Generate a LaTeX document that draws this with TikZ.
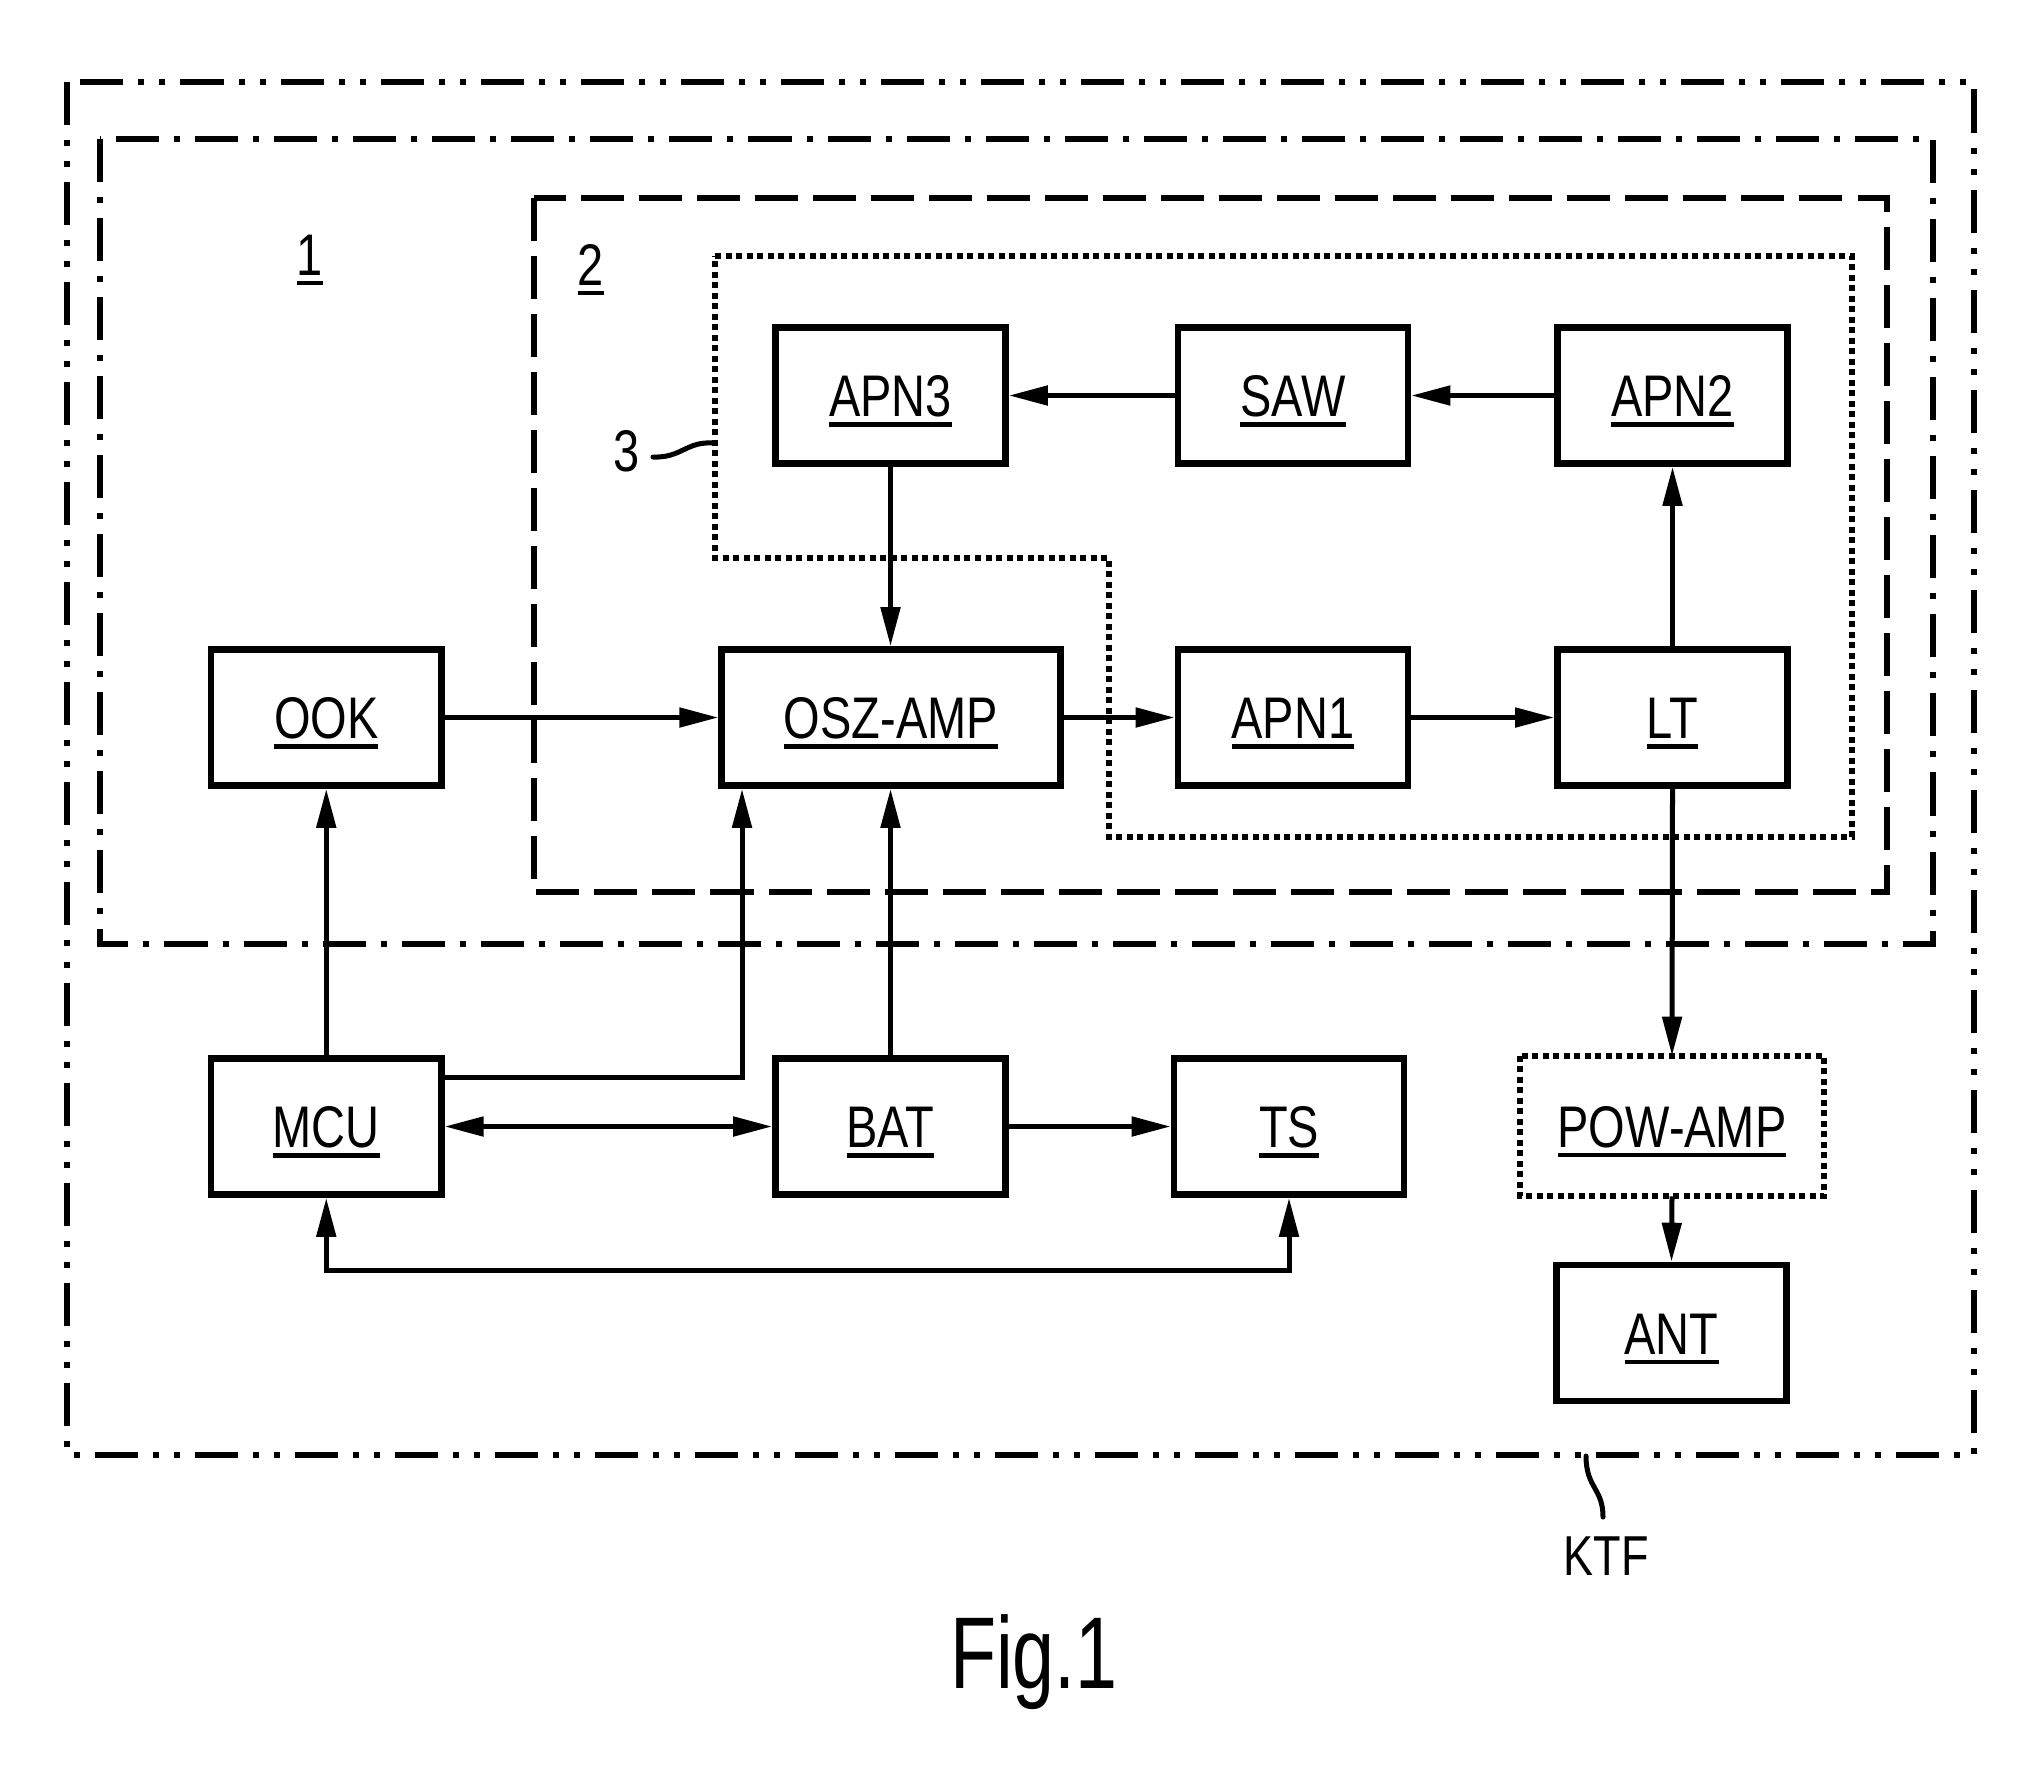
\documentclass[tikz,border=0pt]{standalone}
\usepackage{fontspec}
\setmainfont{Liberation Sans}[FakeStretch=0.8]
\newfontfamily\figfont{Liberation Sans}[FakeStretch=0.74]
\usetikzlibrary{arrows.meta}
\newsavebox\ulbx
\newcommand\ulab[1]{\sbox\ulbx{#1}\rlap{\rule[-0.1025cm]{\wd\ulbx}{0.045cm}}\usebox\ulbx}
\newcommand\lblfont{\fontsize{16.7pt}{20pt}\selectfont}
\tikzset{
  blk/.style={draw, line width=0.065cm, minimum width=2.30cm, minimum height=1.36cm,
    inner sep=0pt, text height=0.42cm, text depth=0pt, font=\lblfont},
  arr/.style={line width=0.05cm, -{Triangle[length=0.39cm,width=0.19cm]}},
  darr/.style={line width=0.05cm, {Triangle[length=0.39cm,width=0.19cm]}-{Triangle[length=0.39cm,width=0.19cm]}},
  ktfframe/.style={line width=0.062cm, dash pattern=on 0.43cm off 0.15cm on 0.06cm off 0.15cm on 0.06cm off 0.15cm},
  oneframe/.style={line width=0.062cm, dash pattern=on 0.43cm off 0.15cm on 0.06cm off 0.15cm},
  twoframe/.style={line width=0.062cm, dash pattern=on 0.43cm off 0.15cm},
  dotframe/.style={line width=0.062cm, dash pattern=on 0.06cm off 0.045cm},
  reflbl/.style={font=\lblfont, inner sep=0pt, anchor=base},
  leader/.style={line width=0.05cm, line cap=round}
}
\begin{document}
\begin{tikzpicture}[x=0.01cm, y=-0.01cm]
\useasboundingbox[fill=white] (0,0) rectangle (2034,1781);

% frames
\draw[ktfframe] (67,82) rectangle (1974,1455);
\draw[oneframe] (100,139) rectangle (1933,944);
\draw[twoframe] (534,198) rectangle (1887,892);
\draw[dotframe] (715,256) -- (1852,256) -- (1852,837) -- (1109,837) -- (1109,558) -- (715,558) -- cycle;

% labels of frames
\node[reflbl] (l1) at (310,275) {\ulab{1}};
\node[reflbl] (l2) at (591,285) {\ulab{2}};
\node[reflbl] (l3) at (627,471) {3};
\draw[leader] (653,457) .. controls (682,458) and (686,441) .. (714,443);
\node[reflbl, font=\fontsize{16pt}{19pt}\selectfont] (ktf) at (1606,1575) {KTF};
\draw[leader] (1586,1456) .. controls (1586,1488) and (1603,1488) .. (1603,1517);
\node[reflbl, font=\figfont\fontsize{29pt}{34pt}\selectfont] (fig) at (1034,1688) {Fig.1};

% blocks
\node[blk] (apn3) at (890.5,395.5) {\ulab{APN3}};
\node[blk] (saw) at (1293,395.5) {\ulab{SAW}};
\node[blk] (apn2) at (1672.5,395.5) {\ulab{APN2}};
\node[blk] (ook) at (326.25,717.5) {\ulab{OOK}};
\node[blk, minimum width=3.385cm] (osz) at (891,717.5) {\ulab{OSZ-AMP}};
\node[blk] (apn1) at (1293,717.5) {\ulab{APN1}};
\node[blk] (lt) at (1672.5,717.5) {\ulab{LT}};
\node[blk] (mcu) at (326.25,1126.5) {\ulab{MCU}};
\node[blk] (bat) at (890.5,1126.5) {\ulab{BAT}};
\node[blk] (ts) at (1289,1126.5) {\ulab{TS}};
\node[blk, draw=none, minimum width=2.98cm, minimum height=1.34cm] (pow) at (1672,1126) {\ulab{POW-AMP}};
\draw[dotframe] (pow.north west) rectangle (pow.south east);
\node[blk] (ant) at (1671.5,1333) {\ulab{ANT}};

% connectors
\draw[arr] (saw) -- (apn3);
\draw[arr] (apn2) -- (saw);
\draw[arr] (lt) -- (apn2);
\draw[arr] (apn3.south) -- (apn3.south |- osz.north);
\draw[arr] (ook) -- (osz);
\draw[arr] (osz) -- (apn1);
\draw[arr] (apn1) -- (lt);
\draw[arr] (lt.south) -- (pow.north);
\draw[arr] (pow.south) -- (ant.north);
\draw[arr] (mcu) -- (ook);
\coordinate (mo) at (742,1077);
\draw[arr] (mcu.east |- mo) -- (mo) -- (mo |- osz.south);
\draw[arr] (bat.north) -- (bat.north |- osz.south);
\draw[darr] (mcu) -- (bat);
\draw[arr] (bat) -- (ts);
\coordinate (lb) at (326.25,1270);
\draw[darr] (mcu.south) -- (lb) -| (ts.south);
\end{tikzpicture}
\end{document}
